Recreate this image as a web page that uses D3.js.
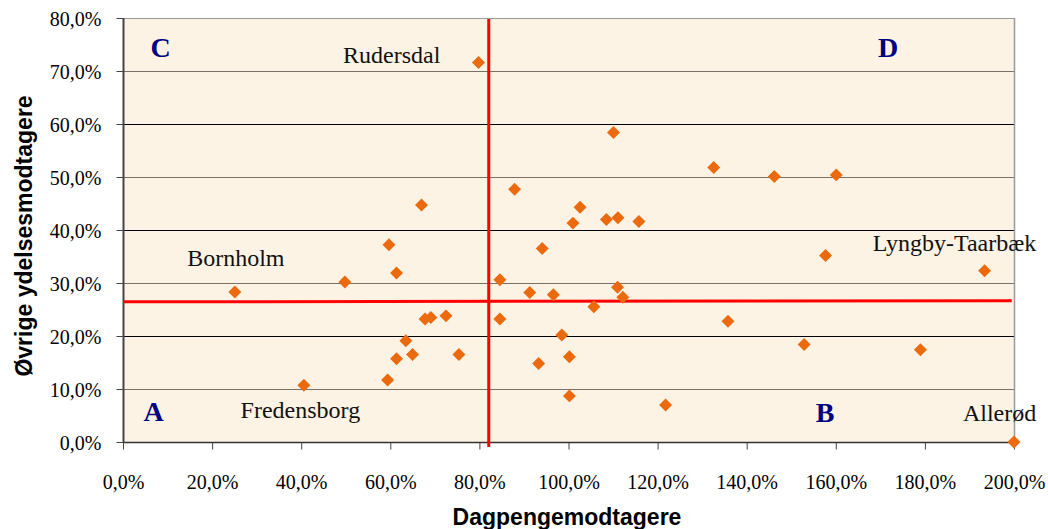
<!DOCTYPE html>
<html>
<head>
<meta charset="utf-8">
<script src="https://cdn.jsdelivr.net/npm/d3@7"></script>
<style>
	body { margin: 0; background: #fff; }
	svg { display: block; }
	.tick text { font-family: "Liberation Serif", "Times New Roman", serif; font-size: 20px; fill: #000; }
	.title { font-family: "Liberation Sans", Arial, sans-serif; font-weight: bold; font-size: 23px; fill: #000; }
	.name { font-family: "Liberation Serif", "Times New Roman", serif; font-size: 24px; fill: #111; }
	.quad { font-family: "Liberation Serif", "Times New Roman", serif; font-weight: bold; font-size: 28px; fill: #000080; }
</style>
</head>
<body>
<svg id="chart"></svg>
<script>
// Dagpengemodtagere (x) and Øvrige ydelsesmodtagere (y), in percent
let dagpenge = [25.1, 40.6, 49.8, 59.4, 59.7, 61.4, 61.4, 63.5, 65.0, 67.0, 67.8, 69.1, 72.5, 75.4, 79.8,
	84.6, 84.6, 87.9, 91.3, 93.3, 94.1, 96.6, 98.5, 100.2, 100.2, 101.0, 102.6, 105.7, 108.5, 110.1,
	111.0, 111.1, 112.2, 115.8, 121.8, 132.6, 135.8, 146.2, 152.9, 157.7, 160.1, 179.0, 193.4, 200.0];
let oevrige = [28.3, 10.7, 30.2, 11.7, 37.2, 31.9, 15.7, 19.1, 16.5, 44.7, 23.2, 23.5, 23.8, 16.5, 71.6,
	30.6, 23.2, 47.7, 28.2, 14.8, 36.5, 27.8, 20.2, 16.1, 8.7, 41.3, 44.3, 25.5, 42.0, 58.4,
	29.2, 42.3, 27.3, 41.6, 7.0, 51.8, 22.8, 50.1, 18.4, 35.2, 50.4, 17.4, 32.3, 0.0];

// averages (reference lines)
let avgX = 82.1;
let avgY = [26.45, 26.65];

let xTicks = [0, 20, 40, 60, 80, 100, 120, 140, 160, 180, 200];
let yTicks = [0, 10, 20, 30, 40, 50, 60, 70, 80];

let names = ["Rudersdal", "Bornholm", "Fredensborg", "Lyngby-Taarbæk", "Allerød"];
let nameX = [49.4, 14.4, 26.4, 205.0, 205.0];
let nameY = [71.5, 33.2, 4.5, 36.1, 4.0];
let nameAnchor = ["start", "start", "start", "end", "end"];

let quads = ["C", "D", "A", "B"];
let quadX = [6.2, 169.5, 4.6, 155.5];
let quadY = [72.6, 72.6, 4.0, 3.8];

function makeChart() {
	let w = 1048;
	let h = 529;
	let marginT = 18;
	let marginL = 123;
	let marginR = 34;
	let marginB = 87;

	let fmt = d => d3.format(".1f")(d).replace(".", ",") + "%";

	let chart = d3.select('#chart')
		.attr('width', w)
		.attr('height', h);

	let xScale = d3.scaleLinear()
		.domain([0, 200])
		.range([marginL, w - marginR]);

	let yScale = d3.scaleLinear()
		.domain([0, 80])
		.range([h - marginB, marginT]);

	// plot background
	chart.append('rect')
		.attr('x', xScale(0))
		.attr('y', yScale(80))
		.attr('width', xScale(200) - xScale(0))
		.attr('height', yScale(0) - yScale(80))
		.style('fill', '#fdf3e5');

	// gridlines
	chart.selectAll('.grid')
		.data(yTicks.filter(d => d > 0))
		.enter()
		.append('line')
		.attr('x1', xScale(0))
		.attr('x2', xScale(200))
		.attr('y1', d => Math.round(yScale(d)) + 0.5)
		.attr('y2', d => Math.round(yScale(d)) + 0.5)
		.style('stroke', d => d === 80 ? '#999' : (d % 20 === 0 ? '#000' : '#7a7068'))
		.style('stroke-width', 1);

	// right border
	chart.append('line')
		.attr('x1', xScale(200) + 0.5)
		.attr('x2', xScale(200) + 0.5)
		.attr('y1', yScale(80))
		.attr('y2', yScale(0))
		.style('stroke', '#999')
		.style('stroke-width', 1.5);

	//AXES
	let xAxis = d3.axisBottom(xScale).tickValues(xTicks).tickFormat(fmt).tickSize(7).tickPadding(25);
	let yAxis = d3.axisLeft(yScale).tickValues(yTicks).tickFormat(fmt).tickSize(7).tickPadding(15);

	let gx = chart.append('g')
		.attr('transform', `translate(0, ${Math.round(yScale(0)) + 0.5})`)
		.call(xAxis);
	gx.select('.domain').attr('d', `M${xScale(0)},0H${xScale(200)}`).style('stroke', '#333').style('stroke-width', 1.5);
	gx.selectAll('.tick line').style('stroke', '#444');

	let gy = chart.append('g')
		.attr('transform', `translate(${Math.round(xScale(0)) + 0.5}, 0)`)
		.call(yAxis);
	gy.select('.domain').attr('d', `M0,${yScale(80)}V${yScale(0)}`).style('stroke', '#444').style('stroke-width', 2);
	gy.selectAll('.tick line').style('stroke', '#444');
	gy.selectAll('.tick text').attr('dy', '0.35em');

	// average lines
	chart.append('line')
		.attr('x1', xScale(avgX))
		.attr('x2', xScale(avgX))
		.attr('y1', yScale(80) + 1)
		.attr('y2', yScale(0) + 5)
		.style('stroke', '#ff0000')
		.style('stroke-width', 3);

	chart.append('line')
		.attr('x1', xScale(0))
		.attr('x2', xScale(199.5))
		.attr('y1', yScale(avgY[0]))
		.attr('y2', yScale(avgY[1]))
		.style('stroke', '#ff0000')
		.style('stroke-width', 3);

	// points
	chart.selectAll('.pt')
		.data(dagpenge)
		.enter()
		.append('path')
		.attr('class', 'pt')
		.attr('d', d3.symbol(d3.symbolSquare, 84))
		.attr('transform', (d, i) => `translate(${xScale(d)}, ${yScale(oevrige[i])}) rotate(45)`)
		.style('fill', '#ec6a0e');

	// names
	chart.selectAll('.name')
		.data(names)
		.enter()
		.append('text')
		.attr('class', 'name')
		.attr('x', (d, i) => xScale(nameX[i]))
		.attr('y', (d, i) => yScale(nameY[i]))
		.style('text-anchor', (d, i) => nameAnchor[i])
		.text(d => d);

	// quadrants
	chart.selectAll('.quad')
		.data(quads)
		.enter()
		.append('text')
		.attr('class', 'quad')
		.attr('x', (d, i) => xScale(quadX[i]))
		.attr('y', (d, i) => yScale(quadY[i]))
		.text(d => d);

	//LABELS
	chart.append('text')
		.attr('class', 'title')
		.attr('x', 567)
		.attr('y', 525)
		.style('text-anchor', 'middle')
		.text('Dagpengemodtagere');

	chart.append('text')
		.attr('class', 'title')
		.attr('transform', 'rotate(-90)')
		.attr('x', -236)
		.attr('y', 32)
		.style('text-anchor', 'middle')
		.text('Øvrige ydelsesmodtagere');
}

window.onload = function () {
	makeChart();
}
</script>
</body>
</html>
